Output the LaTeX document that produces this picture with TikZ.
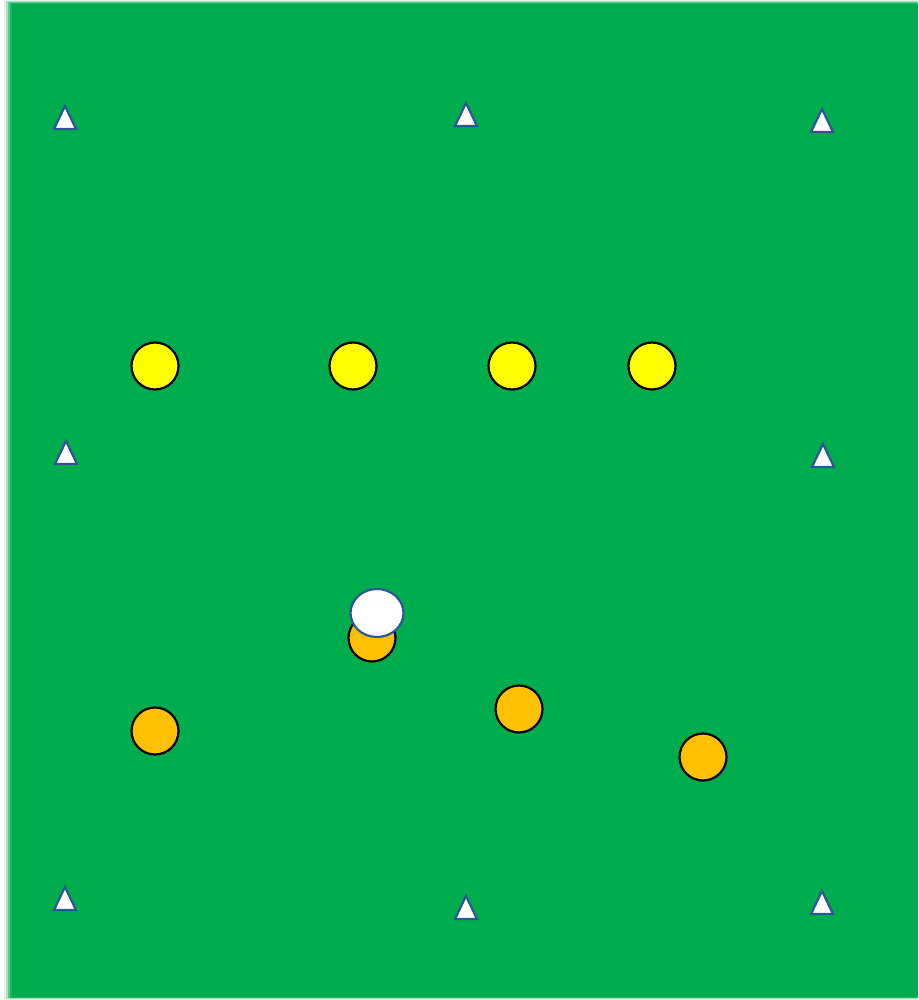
\documentclass[tikz,border=0pt]{standalone}
\usetikzlibrary{calc,shapes.geometric}
\definecolor{field}{RGB}{0,173,78}
\definecolor{cone}{RGB}{47,85,151}
\definecolor{yel}{RGB}{255,255,0}
\definecolor{ora}{RGB}{255,192,0}
\begin{document}
\begin{tikzpicture}[x=1pt,y=-1pt,
  conestyle/.style={fill=white,draw=cone,line width=2.2pt,line join=miter},
  yplayer/.style={circle,minimum size=47pt,inner sep=0pt,fill=yel,draw=black,line width=2.2pt},
  oplayer/.style={circle,minimum size=47pt,inner sep=0pt,fill=ora,draw=black,line width=2.2pt},
  ballstyle/.style={ellipse,minimum width=53pt,minimum height=48pt,inner sep=0pt,fill=white,draw=cone,line width=2.2pt}]
\useasboundingbox (0,0) rectangle (918,1000);
\fill[white] (0,0) rectangle (918,1000);
% soft edges
\foreach \d/\o in {0/0.12,2/0.25,4/0.45,6/0.7,8/1}{
  \fill[field,opacity=\o] (4+\d,\d*0.5) rectangle (918,1000-\d*0.4);
}
% cones
\foreach \n/\cx/\cy in {c1/65/118,c2/466/115,c3/822/121,c4/66/453,c5/823/456,c6/65/899,c7/466/908,c8/822/903}{
  \coordinate (\n) at (\cx,\cy);
  \draw[conestyle] ($(\n)+(-11,11)$) -- ($(\n)+(0,-12)$) -- ($(\n)+(11,11)$) -- cycle;
}
% yellow players
\node[yplayer] (y1) at (155,366) {};
\node[yplayer] (y2) at (353,366) {};
\node[yplayer] (y3) at (512,366) {};
\node[yplayer] (y4) at (652,366) {};
% orange players
\node[oplayer] (o1) at (372,638) {};
\node[oplayer] (o2) at (155,731) {};
\node[oplayer] (o3) at (519,709) {};
\node[oplayer] (o4) at (703,757) {};
% ball
\node[ballstyle] (ball) at (377,613) {};
\end{tikzpicture}
\end{document}
